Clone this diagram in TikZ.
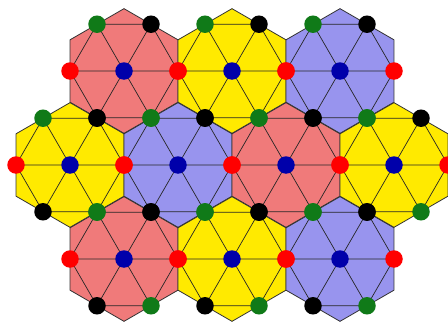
\documentclass[tikz,border=0pt]{standalone}
\usepackage{xcolor}
\usepackage{tikz}
\usetikzlibrary{calc}
\definecolor{TileRed}{RGB}{240,122,122}
\definecolor{TileYellow}{RGB}{255,234,0}
\definecolor{TilePurple}{RGB}{152,148,238}
\definecolor{DotRed}{RGB}{255,0,0}
\definecolor{DotGreen}{RGB}{16,122,24}
\definecolor{DotBlue}{RGB}{0,0,170}

\begin{document}
\begin{tikzpicture}[
    x=1pt, y=1pt,
    tile/.style={draw=black!80, line width=0.8pt},
    grid/.style={draw=black!85, line width=0.7pt},
    dot/.style={circle, inner sep=0pt, minimum size=17.5pt}
]
\useasboundingbox (0,0) rectangle (448,325);

% tiles with inner hexagon and diagonals
\foreach \n/\cx/\cy/\col in {a/124/254/TileRed, b/232/254/TileYellow, c/340/254/TilePurple,
    d/70/160/TileYellow, e/178/160/TilePurple, f/286/160/TileRed, g/394/160/TileYellow,
    h/124/66/TileRed, i/232/66/TileYellow, j/340/66/TilePurple}{
  \coordinate (\n) at (\cx,\cy);
  \foreach \k in {0,...,5} \coordinate (\n\k) at ($(\n)+(\k*60:54)$);
  \draw[tile, fill=\col] ($(\n)+(30:62.35)$) \foreach \k in {90,150,...,330}{-- ($(\n)+(\k:62.35)$)} -- cycle;
  \draw[grid] (\n0) -- (\n1) -- (\n2) -- (\n3) -- (\n4) -- (\n5) -- cycle;
  \draw[grid] (\n0) -- (\n3) (\n1) -- (\n4) (\n2) -- (\n5);
}

% dots
\foreach \n in {a,...,j}{
  \node[dot, fill=DotBlue] (\n-c) at (\n) {};
  \node[dot, fill=DotRed] (\n-r) at (\n0) {};
  \node[dot, fill=black] (\n-ur) at (\n1) {};
  \node[dot, fill=DotGreen] (\n-ul) at (\n2) {};
  \node[dot, fill=DotRed] (\n-l) at (\n3) {};
  \node[dot, fill=black] (\n-dl) at (\n4) {};
  \node[dot, fill=DotGreen] (\n-dr) at (\n5) {};
}

\end{tikzpicture}
\end{document}
